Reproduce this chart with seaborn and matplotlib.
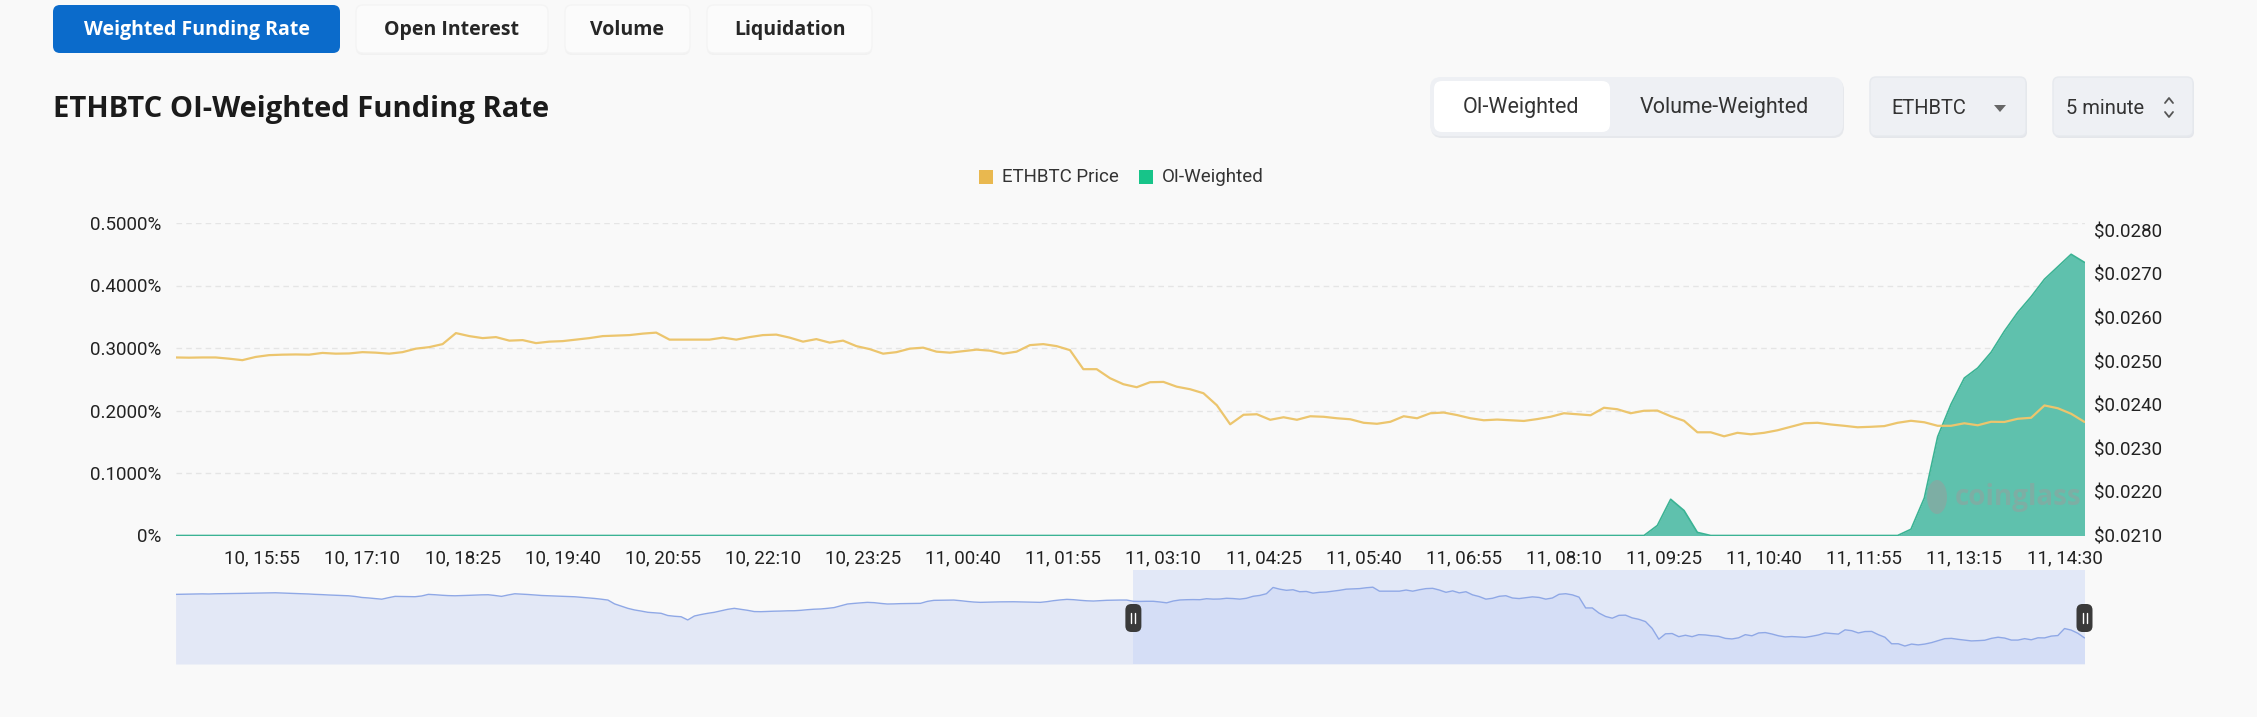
import numpy as np
import pandas as pd
import matplotlib
matplotlib.use("Agg")
import matplotlib.pyplot as plt
import matplotlib.transforms as mtransforms
from matplotlib.patches import FancyBboxPatch, Rectangle, Polygon, Ellipse
import seaborn as sns

# ------------------------------------------------------------------ data
tabs = ["Weighted Funding Rate", "Open Interest", "Volume", "Liquidation"]
title = "ETHBTC OI-Weighted Funding Rate"
weight_modes = ["OI-Weighted", "Volume-Weighted"]
symbol = "ETHBTC"
interval = "5 minute"
legend_labels = ["ETHBTC Price", "OI-Weighted"]

time_labels = ["10, 15:55", "10, 17:10", "10, 18:25", "10, 19:40", "10, 20:55",
               "10, 22:10", "10, 23:25", "11, 00:40", "11, 01:55", "11, 03:10",
               "11, 04:25", "11, 05:40", "11, 06:55", "11, 08:10", "11, 09:25",
               "11, 10:40", "11, 11:55", "11, 13:15", "11, 14:30"]

left_ticks = [0.0, 0.1, 0.2, 0.3, 0.4, 0.5]
right_ticks = [0.021, 0.022, 0.023, 0.024, 0.025, 0.026, 0.027, 0.028]

# ETHBTC price, every 10 minutes (2 categories of 5 min) of the shown window
price = [
    0.025085, 0.025080, 0.025085, 0.025085, 0.025057, 0.025023, 0.025097, 0.025138,
    0.025149, 0.025154, 0.025149, 0.025189, 0.025172, 0.025177, 0.025207, 0.025195,
    0.025172, 0.025207, 0.025287, 0.025322, 0.025391, 0.025644, 0.025575, 0.025529,
    0.025552, 0.025471, 0.025483, 0.025414, 0.025448, 0.025460, 0.025494, 0.025529,
    0.025575, 0.025586, 0.025598, 0.025632, 0.025655, 0.025494, 0.025494, 0.025494,
    0.025494, 0.025540, 0.025494, 0.025552, 0.025598, 0.025609, 0.025540, 0.025448,
    0.025506, 0.025425, 0.025471, 0.025345, 0.025276, 0.025172, 0.025207, 0.025287,
    0.025310, 0.025218, 0.025195, 0.025230, 0.025264, 0.025241, 0.025172, 0.025218,
    0.025368, 0.025391, 0.025345, 0.025253, 0.024816, 0.024816, 0.024609, 0.024471,
    0.024402, 0.024517, 0.024524, 0.024414, 0.024356, 0.024264, 0.023989, 0.023552,
    0.023770, 0.023782, 0.023655, 0.023713, 0.023655, 0.023736, 0.023724, 0.023690,
    0.023667, 0.023586, 0.023563, 0.023609, 0.023736, 0.023690, 0.023805, 0.023821,
    0.023763, 0.023690, 0.023644, 0.023660, 0.023644, 0.023628, 0.023671, 0.023724,
    0.023805, 0.023782, 0.023759, 0.023931, 0.023897, 0.023805, 0.023862, 0.023867,
    0.023736, 0.023632, 0.023368, 0.023368, 0.023276, 0.023356, 0.023322, 0.023356,
    0.023414, 0.023494, 0.023575, 0.023586, 0.023547, 0.023517, 0.023483, 0.023494,
    0.023510, 0.023586, 0.023632, 0.023598, 0.023517, 0.023517, 0.023575, 0.023529,
    0.023609, 0.023605, 0.023678, 0.023701, 0.023984, 0.023920, 0.023793, 0.023605,
]

# OI-weighted funding rate (%), same timestamps
oi_weighted = [
    0, 0, 0, 0, 0, 0, 0, 0, 0, 0, 0, 0, 0, 0, 0, 0, 0, 0, 0, 0, 0, 0, 0, 0,
    0, 0, 0, 0, 0, 0, 0, 0, 0, 0, 0, 0, 0, 0, 0, 0, 0, 0, 0, 0, 0, 0, 0, 0,
    0, 0, 0, 0, 0, 0, 0, 0, 0, 0, 0, 0, 0, 0, 0, 0, 0, 0, 0, 0, 0, 0, 0, 0,
    0, 0, 0, 0, 0, 0, 0, 0, 0, 0, 0, 0, 0, 0, 0, 0, 0, 0, 0, 0, 0, 0, 0, 0,
    0, 0, 0, 0, 0, 0, 0, 0, 0, 0, 0, 0, 0, 0, 0,
    0.016, 0.058, 0.040, 0.005,
    0, 0, 0, 0, 0, 0, 0, 0, 0, 0, 0, 0, 0, 0, 0,
    0.010, 0.060, 0.158, 0.210, 0.252, 0.268, 0.293, 0.327, 0.357, 0.382,
    0.410, 0.430, 0.450, 0.437,
]

# price of the preceding 24 h, only visible in the zoom slider
prev_price = [
    0.025365, 0.025370, 0.025375, 0.025380, 0.025385, 0.025380, 0.025389, 0.025392,
    0.025398, 0.025395, 0.025405, 0.025410, 0.025415, 0.025420, 0.025425, 0.025429,
    0.025420, 0.025410, 0.025400, 0.025390, 0.025380, 0.025365, 0.025355, 0.025340,
    0.025330, 0.025320, 0.025308, 0.025280, 0.025240, 0.025220, 0.025195, 0.025170,
    0.025230, 0.025284, 0.025280, 0.025275, 0.025270, 0.025300, 0.025365, 0.025350,
    0.025330, 0.025315, 0.025308, 0.025315, 0.025325, 0.025335, 0.025345, 0.025349,
    0.025320, 0.025284, 0.025340, 0.025389, 0.025375, 0.025360, 0.025340, 0.025320,
    0.025308, 0.025298, 0.025288, 0.025278, 0.025268, 0.025245, 0.025220, 0.025200,
    0.025170, 0.025135, 0.024980, 0.024890, 0.024800, 0.024735, 0.024690, 0.024640,
    0.024620, 0.024599, 0.024510, 0.024480, 0.024461, 0.024330, 0.024490, 0.024550,
    0.024599, 0.024640, 0.024700, 0.024760, 0.024800, 0.024760, 0.024720, 0.024670,
    0.024665, 0.024675, 0.024685, 0.024690, 0.024700, 0.024703, 0.024720, 0.024745,
    0.024765, 0.024775, 0.024800, 0.024830, 0.024900, 0.024974, 0.025000, 0.025020,
    0.025042, 0.025030, 0.025000, 0.024975, 0.024980, 0.024990, 0.024995, 0.025000,
    0.025002, 0.025080, 0.025123, 0.025128, 0.025132, 0.025135, 0.025110, 0.025080,
    0.025055, 0.025042, 0.025050, 0.025058, 0.025062, 0.025066, 0.025066, 0.025060,
    0.025052, 0.025046, 0.025042, 0.025070, 0.025110, 0.025140, 0.025163, 0.025150,
    0.025125, 0.025105, 0.025095, 0.025110, 0.025125, 0.025130, 0.025135, 0.025135,
]

# ------------------------------------------------------------------ style
sns.set_theme(style="white")
plt.rcParams["font.family"] = ["Roboto", "DejaVu Sans"]
UI_FONT = ["Open Sans", "DejaVu Sans"]

BG = "#f9f9f9"
W_PX, H_PX = 2257, 717
fig = plt.figure(figsize=(W_PX / 100, H_PX / 100), dpi=100, facecolor=BG)

# UI layer in pixel coordinates
ui = fig.add_axes([0, 0, 1, 1])
ui.set_xlim(0, W_PX)
ui.set_ylim(H_PX, 0)
ui.axis("off")


def rbox(axp, x0, y0, x1, y1, fc, ec="none", r=8, lw=1.0, z=1):
    axp.add_patch(FancyBboxPatch((x0, y0), x1 - x0, y1 - y0,
                                 boxstyle=f"round,pad=0,rounding_size={r}",
                                 fc=fc, ec=ec, lw=lw, zorder=z))


# tabs
tab_boxes = [(53, 5, 340, 53), (356, 5, 548, 53), (565, 5, 690, 53), (707, 5, 872, 53)]
for i, (lab, (x0, y0, x1, y1)) in enumerate(zip(tabs, tab_boxes)):
    if i == 0:
        rbox(ui, x0, y0, x1, y1, "#0b6bcb", r=7)
        col = "white"
    else:
        rbox(ui, x0, y0 + 2, x1, y1 + 2, "#f1f1f1", r=7)
        rbox(ui, x0, y0, x1, y1, "#fbfbfb", ec="#f4f4f4", r=7)
        col = "#262626"
    ui.text((x0 + x1) / 2, 30, lab, ha="center", va="center", family=UI_FONT,
            fontsize=14, fontweight="bold", color=col)

ui.text(53, 109, title, ha="left", va="center", fontsize=21, family=UI_FONT,
        fontweight="bold", color="#1b1b1b")

# weighting selector
rbox(ui, 1431, 79, 1844, 138, "#e6e8ec", r=11)
rbox(ui, 1430, 77, 1843, 136, "#eef0f4", r=11)
rbox(ui, 1434, 81, 1610, 132, "white", r=8)
ui.text(1521, 108, weight_modes[0], ha="center", va="center", fontsize=15.5, color="#333333")
ui.text(1724, 108, weight_modes[1], ha="center", va="center", fontsize=15.5, color="#333333")

# symbol dropdown
rbox(ui, 1871, 79, 2027, 138, "#e4e6ea", r=6)
rbox(ui, 1870, 77, 2026, 136, "#eef0f4", ec="#e6e9ee", r=6)
ui.text(1929, 108, symbol, ha="center", va="center", fontsize=14.5, color="#333333")
ui.add_patch(Polygon([(1994, 105), (2006, 105), (2000, 112)], closed=True, fc="#666666", ec="none"))

# interval selector
rbox(ui, 2054, 79, 2194, 138, "#e4e6ea", r=6)
rbox(ui, 2053, 77, 2193, 136, "#eef0f4", ec="#e6e9ee", r=6)
ui.text(2066, 108, interval, ha="left", va="center", fontsize=14.5, color="#333333")
ui.plot([2165, 2169, 2173], [103, 98, 103], color="#555555", lw=1.3)
ui.plot([2165, 2169, 2173], [112, 117, 112], color="#555555", lw=1.3)

# legend
PRICE_LEG = "#e9b84f"
OI_LEG = "#17c489"
ui.add_patch(Rectangle((979, 170), 14, 14, fc=PRICE_LEG, ec="none"))
ui.text(1002, 177, legend_labels[0], ha="left", va="center", fontsize=13.5, color="#333333")
ui.add_patch(Rectangle((1139, 170), 14, 14, fc=OI_LEG, ec="none"))
ui.text(1162, 177, legend_labels[1], ha="left", va="center", fontsize=13.5, color="#333333")

# ------------------------------------------------------------------ main chart
L = 175.6 / W_PX
Wd = (2084.5 - 175.6) / W_PX
B = 1 - 535.5 / H_PX
Hd = (535.5 - 223.0) / H_PX

ax = fig.add_axes([L, B, Wd, Hd])
ax.patch.set_visible(False)
x = np.arange(len(price)) * 2          # 5-minute category index
df = pd.DataFrame({"x": x, "price": price, "oi": oi_weighted})

ax.set_xlim(0, x[-1])
ax.set_ylim(left_ticks[0], left_ticks[-1])
ax.set_yticks(left_ticks)
ax.set_yticklabels(["0%" if v == 0 else f"{v:.4f}%" for v in left_ticks])
ax.yaxis.grid(True, linestyle=(0, (4, 3)), color="#e5e5e5", lw=1.0)
ax.xaxis.grid(False)
ax.set_axisbelow(True)
tick_pos = 13 + 15 * np.arange(len(time_labels))
ax.set_xticks(tick_pos)
ax.set_xticklabels(time_labels)
ax.tick_params(axis="x", length=0, pad=10, labelsize=13.5, labelcolor="#222222")
ax.tick_params(axis="y", length=0, pad=10, labelsize=13.5, labelcolor="#222222")
for s in ax.spines.values():
    s.set_visible(False)

# zero baseline: pink line just below the teal series edge
off = mtransforms.offset_copy(ax.transData, fig=fig, x=0, y=-1.5, units="dots")
ax.plot([0, x[-1]], [0, 0], color="#f1bfc6", lw=1.3, transform=off, zorder=2)

ax.fill_between(df["x"], 0, df["oi"], color="#5fc1ad", lw=0, zorder=3)
sns.lineplot(data=df, x="x", y="oi", ax=ax, color="#3bb394", lw=1.2,
             estimator=None, sort=False, zorder=4, legend=False)
ax.set_xlabel("")
ax.set_ylabel("")

ax2 = ax.twinx()
ax2.set_ylim(0.021, 0.02817)
sns.lineplot(data=df, x="x", y="price", ax=ax2, color="#ecc56d", lw=1.6,
             estimator=None, sort=False, zorder=5, legend=False)
ax2.set_yticks(right_ticks)
ax2.set_yticklabels([f"${v:.4f}" for v in right_ticks])
ax2.tick_params(axis="y", length=0, pad=7, labelsize=13.5, labelcolor="#222222")
ax2.set_ylabel("")
ax2.grid(False)
for s in ax2.spines.values():
    s.set_visible(False)
ax2.set_xlim(0, x[-1])

# ------------------------------------------------------------------ zoom slider
axs = fig.add_axes([L, 1 - 664 / H_PX, Wd, 94 / H_PX])
full = prev_price + price
xs = np.arange(len(full)) * 2
sdf = pd.DataFrame({"x": xs, "p": full})
lo, hi = 0.02255, 0.02635
axs.set_xlim(0, xs[-1])
axs.set_ylim(lo, hi)
axs.patch.set_visible(False)
axs.fill_between(sdf["x"], lo, sdf["p"], color="#e3e8f6", lw=0)
sns.lineplot(data=sdf, x="x", y="p", ax=axs, color="#8fa8e6", lw=1.0,
             estimator=None, sort=False, legend=False)
sel_start = len(prev_price) * 2
axs.axvspan(sel_start, xs[-1], color="#c3d1f6", alpha=0.42, lw=0)
axs.set_xticks([])
axs.set_yticks([])
axs.set_xlabel("")
axs.set_ylabel("")
for s in axs.spines.values():
    s.set_visible(False)

# ------------------------------------------------------------------ top overlay (handles, watermark)
top = fig.add_axes([0, 0, 1, 1])
top.set_xlim(0, W_PX)
top.set_ylim(H_PX, 0)
top.axis("off")
top.patch.set_visible(False)

for hx in (sel_start, xs[-1]):
    px = axs.transData.transform((hx, lo))[0]
    rbox(top, px - 8, 604, px + 8, 632, "#3a3a3a", r=6, z=5)
    top.plot([px - 2, px - 2], [613, 623], color="white", lw=1.0, zorder=6)
    top.plot([px + 2, px + 2], [613, 623], color="white", lw=1.0, zorder=6)

# coinglass watermark
top.add_patch(Ellipse((1937, 497), 20, 34, fc="#9c9c9c", ec="none", alpha=0.5))
top.text(1955, 497, "coinglass", ha="left", va="center", family=UI_FONT,
         fontsize=20, fontweight="bold", color="#9c9c9c", alpha=0.5)

fig.savefig("out.png", dpi=100, facecolor=BG)
